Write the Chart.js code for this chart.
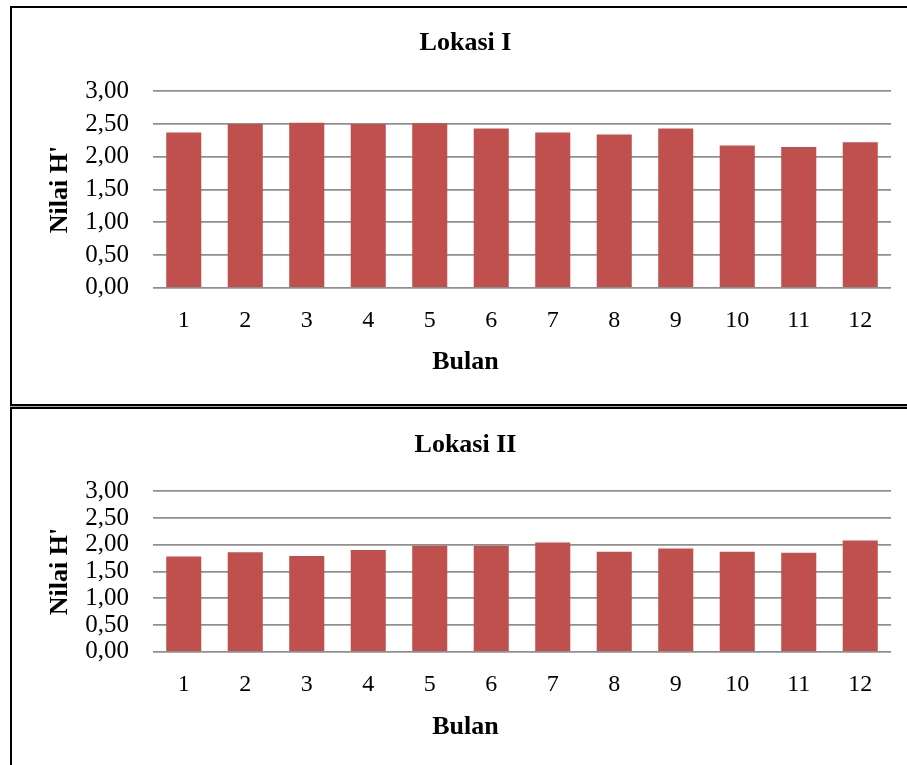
<!DOCTYPE html>
<html>
<head>
<meta charset="utf-8">
<script src="https://cdn.jsdelivr.net/npm/chart.js@4/dist/chart.umd.min.js"></script>
<style>
    html, body { margin: 0; padding: 0; background: #fff; }
    body { width: 907px; height: 765px; position: relative; overflow: hidden; }
    .box { position: absolute; left: 10px; width: 920px; border: 2px solid #000; box-sizing: border-box; }
    #box1 { top: 6px; height: 400px; }
    #box2 { top: 407px; height: 380px; }
    #sep { position: absolute; left: 10px; top: 406px; width: 920px; height: 1px; background: #aaa; }
    .wrap { position: absolute; left: 0; width: 907px; }
    canvas { position: absolute; left: 0; top: 0; }
</style>
</head>
<body>
<div class="box" id="box1"></div>
<div id="sep"></div>
<div class="box" id="box2"></div>
<div class="wrap" style="top:0;height:405px"><canvas id="c1"></canvas></div>
<div class="wrap" style="top:408px;height:357px"><canvas id="c2"></canvas></div>
<script>
var months = ['1', '2', '3', '4', '5', '6', '7', '8', '9', '10', '11', '12'];
var lokasi1 = [2.37, 2.50, 2.52, 2.50, 2.51, 2.43, 2.37, 2.34, 2.43, 2.17, 2.15, 2.22];
var lokasi2 = [1.78, 1.86, 1.79, 1.90, 1.98, 1.98, 2.04, 1.87, 1.93, 1.87, 1.85, 2.08];
var yTickLabels = ['0,00', '0,50', '1,00', '1,50', '2,00', '2,50', '3,00'];

var serif = "'Liberation Serif', 'Times New Roman', serif";
var barColor = '#C0504D';
var gridColor = '#8f8f8f';
var boldFont = { family: serif, size: 26, weight: 'bold', lineHeight: 1.2 };

function makeChart(id, h, title, values, pad) {
    var canvas = document.getElementById(id);
    canvas.style.width = '907px';
    canvas.style.height = h + 'px';
    canvas.width = 907;
    canvas.height = h;

    return new Chart(canvas.getContext('2d'), {
        type: 'bar',
        data: {
            labels: months,
            datasets: [{
                label: title,
                data: values,
                backgroundColor: barColor,
                borderWidth: 0,
                barPercentage: 0.57,
                categoryPercentage: 1
            }]
        },
        options: {
            responsive: false,
            animation: false,
            devicePixelRatio: 1,
            layout: { padding: { left: 40, right: 16, top: 0, bottom: pad.bottom } },
            plugins: {
                legend: { display: false },
                tooltip: { enabled: false },
                title: {
                    display: true,
                    text: title,
                    color: '#000',
                    font: boldFont,
                    padding: { top: pad.titleTop, bottom: pad.titleBottom }
                },
                subtitle: {
                    display: true,
                    position: 'bottom',
                    text: 'Bulan',
                    color: '#000',
                    font: boldFont,
                    padding: { top: pad.xTitleTop, bottom: 0 }
                }
            },
            scales: {
                x: {
                    grid: { display: false, drawTicks: false },
                    border: { display: false },
                    afterFit: function (scale) { scale.height = 50; },
                    ticks: {
                        color: '#000',
                        padding: 19,
                        maxRotation: 0,
                        font: { family: serif, size: 24, lineHeight: 1.2 }
                    }
                },
                y: {
                    min: 0,
                    max: 3,
                    grid: { color: gridColor, lineWidth: 1.8, drawTicks: false },
                    border: { display: false },
                    afterFit: function (scale) { scale.width = 113; },
                    ticks: {
                        stepSize: 0.5,
                        autoSkip: false,
                        color: '#000',
                        padding: 24,
                        font: { family: serif, size: 25, lineHeight: 1.2 },
                        callback: function (value, index) { return yTickLabels[index]; }
                    },
                    title: {
                        display: true,
                        text: "Nilai H'",
                        color: '#000',
                        font: boldFont,
                        padding: { top: 5, bottom: 0 }
                    }
                }
            }
        }
    });
}

makeChart('c1', 405, 'Lokasi I', lokasi1, { titleTop: 28, titleBottom: 32, xTitleTop: 9, bottom: 27 });
makeChart('c2', 357, 'Lokasi II', lokasi2, { titleTop: 22, titleBottom: 30, xTitleTop: 10, bottom: 22 });
</script>
</body>
</html>
